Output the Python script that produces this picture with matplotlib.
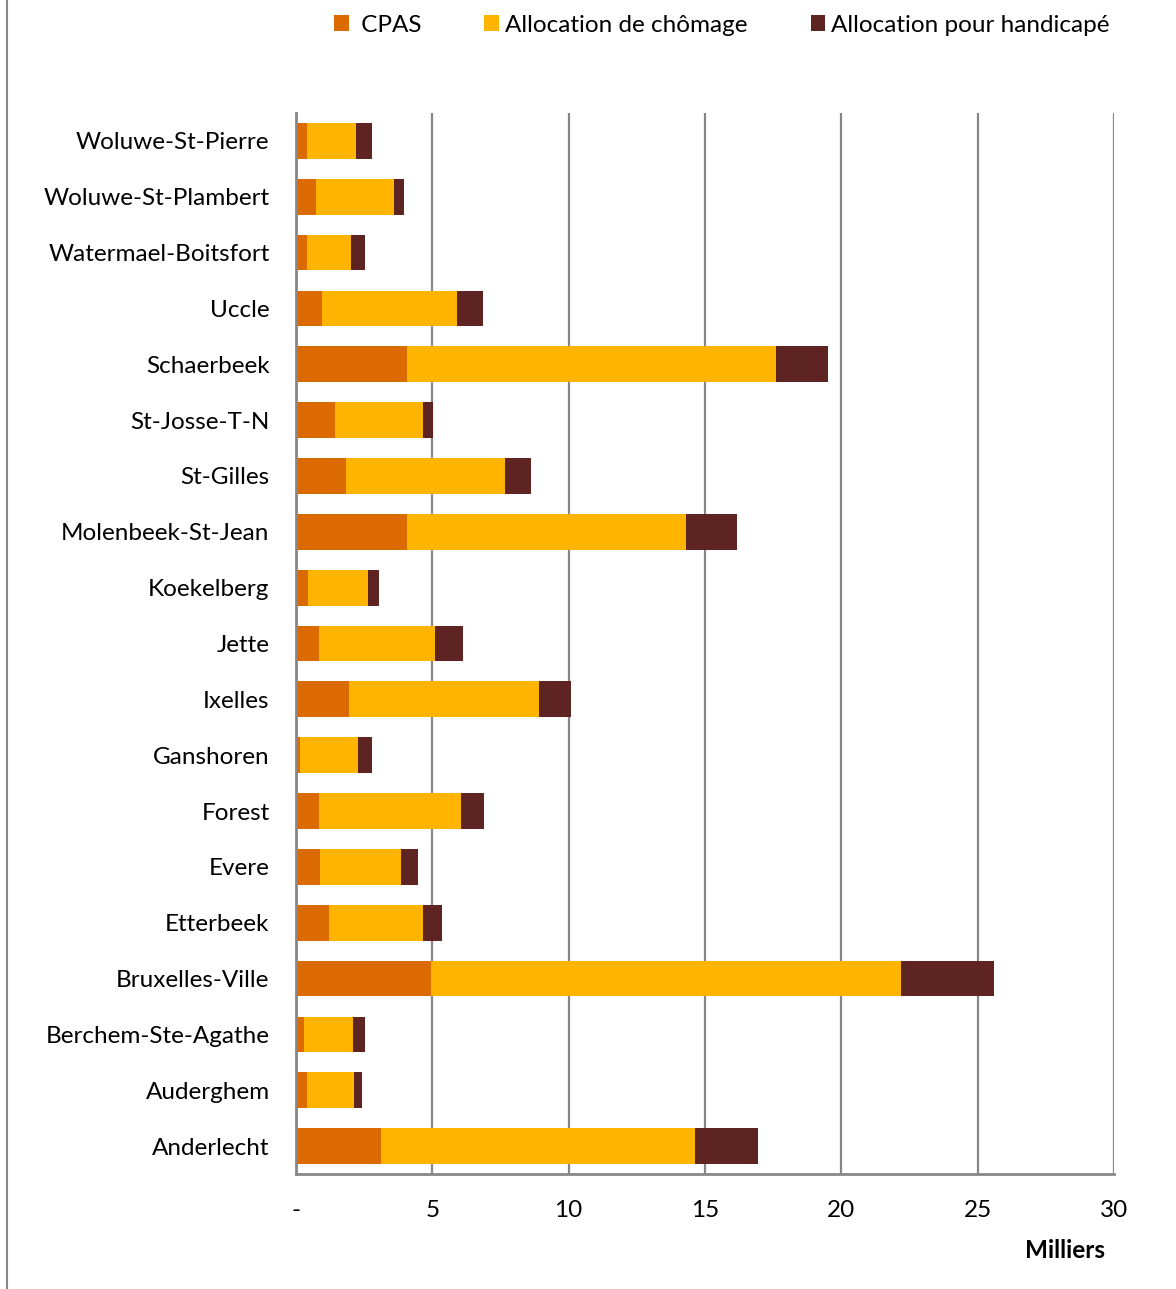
import matplotlib
matplotlib.use("Agg")
import matplotlib.pyplot as plt
from matplotlib.lines import Line2D
from matplotlib.patches import Patch
import numpy as np

plt.rcParams['font.family'] = ['Lato', 'DejaVu Sans']

# Communes listed bottom-to-top (as drawn on the y axis)
communes = [
    "Anderlecht", "Auderghem", "Berchem-Ste-Agathe", "Bruxelles-Ville",
    "Etterbeek", "Evere", "Forest", "Ganshoren", "Ixelles", "Jette",
    "Koekelberg", "Molenbeek-St-Jean", "St-Gilles", "St-Josse-T-N",
    "Schaerbeek", "Uccle", "Watermael-Boitsfort", "Woluwe-St-Plambert",
    "Woluwe-St-Pierre",
]

# Values in thousands
cpas = [3.11, 0.40, 0.28, 4.95, 1.22, 0.88, 0.84, 0.15, 1.95, 0.85,
        0.44, 4.07, 1.83, 1.42, 4.07, 0.96, 0.40, 0.73, 0.40]
chomage = [11.53, 1.71, 1.81, 17.25, 3.44, 2.98, 5.20, 2.13, 6.95, 4.25,
           2.21, 10.25, 5.84, 3.23, 13.55, 4.95, 1.63, 2.86, 1.80]
handicap = [2.30, 0.32, 0.45, 3.39, 0.68, 0.63, 0.86, 0.52, 1.17, 1.02,
            0.40, 1.87, 0.95, 0.39, 1.90, 0.95, 0.50, 0.37, 0.60]

series_names = [" CPAS", "Allocation de chômage", "Allocation pour handicapé"]
colors = ["#DB6A00", "#FFB400", "#5E2421"]
xticks = [0, 5, 10, 15, 20, 25, 30]
xtick_labels = ["-", "5", "10", "15", "20", "25", "30"]

W, H = 1176, 1289
fig = plt.figure(figsize=(W / 100, H / 100), dpi=100)
ax = fig.add_axes([296 / W, 1 - 1174 / H, (1114 - 296) / W, (1174 - 113) / H])

y = np.arange(len(communes))
left = np.zeros(len(communes))
for vals, name, col in zip([cpas, chomage, handicap], series_names, colors):
    vals = np.asarray(vals)
    ax.barh(y, vals, left=left, height=0.64, color=col, label=name,
            edgecolor="none", zorder=3)
    left = left + vals

ax.set_xlim(0, 30)
ax.set_ylim(-0.5, len(communes) - 0.5)
ax.set_xticks(xticks)
ax.set_xticklabels(xtick_labels)
ax.set_yticks(y)
ax.set_yticklabels(communes)

grid_col = "#878787"
ax.xaxis.grid(True, color=grid_col, linewidth=1.6, zorder=0)
ax.set_axisbelow(True)
for s in ["top", "right"]:
    ax.spines[s].set_visible(False)
for s in ["left", "bottom"]:
    ax.spines[s].set_color(grid_col)
    ax.spines[s].set_linewidth(2)
    ax.spines[s].set_zorder(4)

fs = 17.5
ax.tick_params(axis="both", length=0, labelsize=fs, colors="black")
ax.tick_params(axis="y", pad=19)
ax.tick_params(axis="x", pad=19)

fig.text(1065 / W, 1 - 1250 / H, "Milliers", ha="center", va="center",
         fontsize=fs, fontweight="bold")

handles = [Patch(facecolor=c, edgecolor="none") for c in colors]
fig.legend(handles, series_names, loc="center", ncol=3,
           bbox_to_anchor=(722 / W, 1 - 25 / H), frameon=False,
           fontsize=fs, handlelength=0.6, handleheight=0.6,
           handletextpad=0.25, columnspacing=2.6)

# Frame edge on the left side of the figure
fig.add_artist(Line2D([7 / W, 7 / W], [0, 1], color=grid_col, linewidth=1.5,
                      transform=fig.transFigure))

fig.savefig("out.png", dpi=100, facecolor="white")
